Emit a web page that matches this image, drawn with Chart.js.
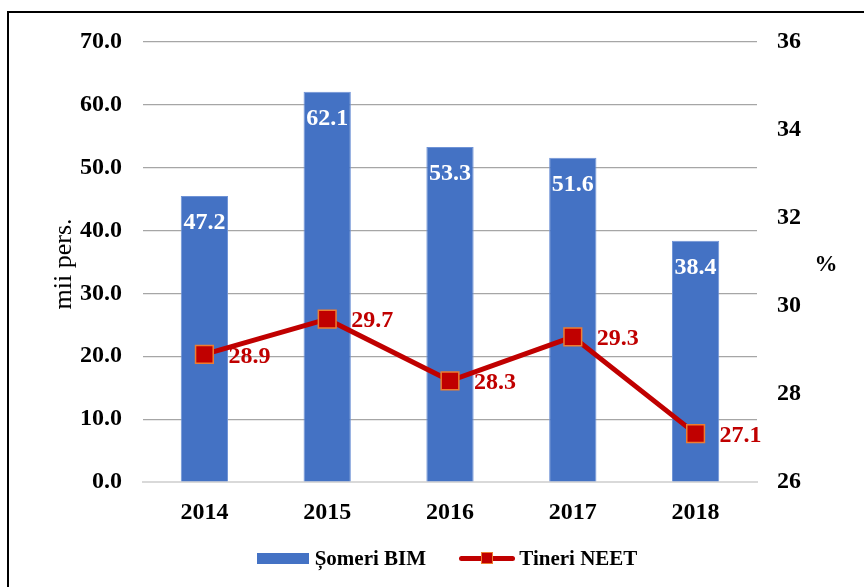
<!DOCTYPE html>
<html>
<head>
<meta charset="utf-8">
<script src="https://cdn.jsdelivr.net/npm/chart.js@4.4.0/dist/chart.umd.min.js"></script>
<style>
    html, body { margin: 0; padding: 0; background: #fff; }
    #wrap { position: relative; width: 864px; height: 587px; overflow: hidden; }
    #frame { position: absolute; left: 7px; top: 11px; width: 900px; height: 600px;
             border-left: 2px solid #000; border-top: 2px solid #000; box-sizing: border-box; }
    canvas { position: absolute; left: 0; top: 0; }
    #legend { position: absolute; top: 545px; left: 30px; width: 834px; text-align: center;
              font: bold 21px "Liberation Serif", "Times New Roman", serif; color: #000; white-space: nowrap; }
    .item { display: inline-flex; align-items: center; margin: 0 14px; }
    .box { width: 52px; height: 11px; background: #4472C4; margin-right: 6px; }
    .ln { position: relative; width: 56px; height: 12px; margin-right: 4px; }
    .ln .bar { position: absolute; left: 0; top: 4px; width: 56px; height: 5px; border-radius: 3px; background: #C00000; }
    .ln .mk { position: absolute; left: 22px; top: 0; width: 10px; height: 10px; background: #C00000; border: 1px solid #ED7D31; }
</style>
</head>
<body>
<div id="wrap">
    <div id="frame"></div>
    <canvas id="chart" width="864" height="587"></canvas>
    <div id="legend">
        <span class="item"><span class="box"></span>Șomeri BIM</span>
        <span class="item"><span class="ln"><span class="bar"></span><span class="mk"></span></span>Tineri NEET</span>
    </div>
</div>
<script>
// --- dados ---
const anos = ['2014', '2015', '2016', '2017', '2018'];
const someriBIM = [45.5, 62.1, 53.3, 51.6, 38.4];
const someriEtichete = ['47.2', '62.1', '53.3', '51.6', '38.4'];
const tineriNEET = [28.9, 29.7, 28.3, 29.3, 27.1];
const ticksStanga = [0, 10, 20, 30, 40, 50, 60, 70];
const ticksDreapta = [26, 28, 30, 32, 34, 36];

const FONT = '"Liberation Serif", "Times New Roman", serif';

// etichete de date + titluri axe
const etichetePlugin = {
    id: 'etichete',
    afterDatasetsDraw(chart) {
        const ctx = chart.ctx;
        ctx.save();
        ctx.font = 'bold 24px ' + FONT;
        ctx.textBaseline = 'middle';

        const barMeta = chart.getDatasetMeta(1);
        ctx.fillStyle = '#ffffff';
        ctx.textAlign = 'center';
        barMeta.data.forEach((el, i) => {
            ctx.fillText(someriEtichete[i], el.x, el.y + 27);
        });

        const lineMeta = chart.getDatasetMeta(0);
        ctx.fillStyle = '#C00000';
        ctx.textAlign = 'left';
        lineMeta.data.forEach((el, i) => {
            ctx.fillText(tineriNEET[i].toFixed(1), el.x + 24, el.y + 2);
        });

        // titluri axe
        const area = chart.chartArea;
        const midY = (area.top + area.bottom) / 2;
        ctx.fillStyle = '#000';
        ctx.font = '26px ' + FONT;
        ctx.textAlign = 'center';
        ctx.save();
        ctx.translate(64, midY + 2);
        ctx.rotate(-Math.PI / 2);
        ctx.fillText('mii pers.', 0, 0);
        ctx.restore();
        ctx.font = 'bold 23px ' + FONT;
        ctx.fillText('%', 826, midY + 3);
        ctx.restore();
    }
};

new Chart(document.getElementById('chart'), {
    data: {
        labels: anos,
        datasets: [
            {
                type: 'line',
                label: 'Tineri NEET',
                data: tineriNEET,
                yAxisID: 'yR',
                borderColor: '#C00000',
                borderWidth: 5,
                pointStyle: 'rect',
                pointRadius: 12.5,
                pointBackgroundColor: '#C00000',
                pointBorderColor: '#ED7D31',
                pointBorderWidth: 1.5,
                tension: 0,
                order: 0
            },
            {
                type: 'bar',
                label: 'Șomeri BIM',
                data: someriBIM,
                yAxisID: 'yL',
                backgroundColor: '#4472C4',
                borderColor: '#6f93d6',
                borderWidth: 1,
                categoryPercentage: 1,
                barPercentage: 0.385,
                order: 1
            }
        ]
    },
    options: {
        responsive: false,
        animation: false,
        layout: { padding: { top: 42, left: 0, right: 0, bottom: 0 } },
        plugins: {
            legend: { display: false },
            tooltip: { enabled: false }
        },
        scales: {
            x: {
                grid: { display: false, drawTicks: false },
                border: { display: true, color: '#d9d9d9', width: 2 },
                ticks: { color: '#000', font: { family: FONT, size: 24, weight: 'bold' }, padding: 16 },
                afterFit(scale) { scale.height = 105; }
            },
            yL: {
                position: 'left',
                min: 0, max: 70,
                afterBuildTicks(scale) { scale.ticks = ticksStanga.map(v => ({ value: v })); },
                grid: {
                    drawTicks: false,
                    color: ctx => ctx.tick && ctx.tick.value === 0 ? 'rgba(0,0,0,0)' : '#a6a6a6',
                    lineWidth: 1.2
                },
                border: { display: false },
                ticks: {
                    color: '#000',
                    font: { family: FONT, size: 24, weight: 'bold' },
                    padding: 21,
                    callback: v => v.toFixed(1)
                },
                afterFit(scale) { scale.width = 143; }
            },
            yR: {
                position: 'right',
                min: 26, max: 36,
                afterBuildTicks(scale) { scale.ticks = ticksDreapta.map(v => ({ value: v })); },
                grid: { display: false, drawTicks: false },
                border: { display: false },
                ticks: {
                    color: '#000',
                    font: { family: FONT, size: 24, weight: 'bold' },
                    padding: 20
                },
                afterFit(scale) { scale.width = 107; }
            }
        }
    },
    plugins: [etichetePlugin]
});
</script>
</body>
</html>
